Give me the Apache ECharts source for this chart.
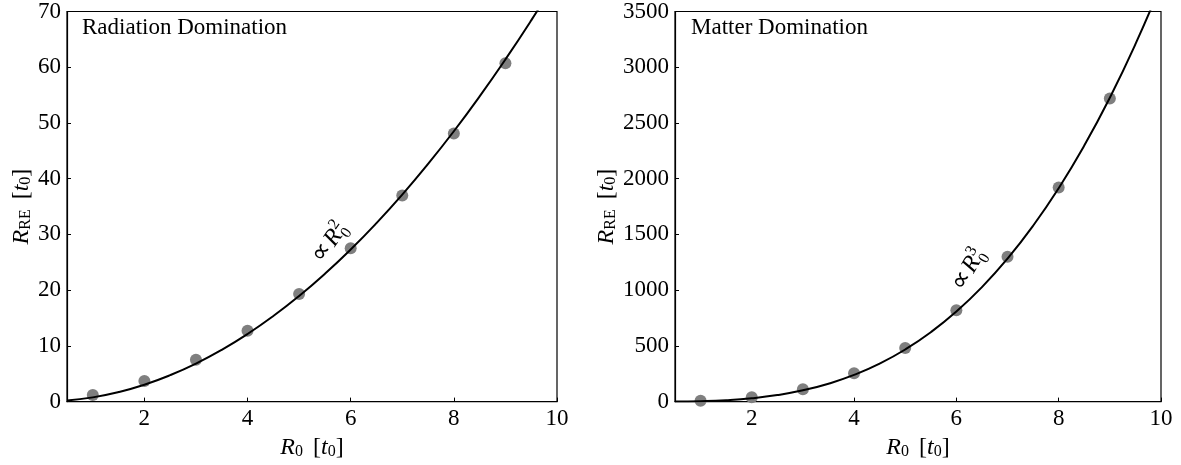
<!DOCTYPE html>
<html>
<head>
<meta charset="utf-8">
<script src="https://cdn.jsdelivr.net/npm/echarts@6/dist/echarts.min.js"></script>
<style>html,body{margin:0;padding:0;background:#fff}#c{width:1181px;height:465px}</style>
</head>
<body>
<div id="c"></div>
<script>
// ---- data ----
const xPoints = [1, 2, 3, 4, 5, 6, 7, 8, 9];
const radPoints = [1.2, 3.7, 7.5, 12.7, 19.3, 27.5, 37.0, 48.1, 60.7];
const matPoints = [8, 38, 110, 255, 480, 820, 1300, 1920, 2720];
const curveX = [0.5, 1, 1.5, 2, 2.5, 3, 3.5, 4, 4.5, 5, 5.5, 6, 6.5, 7, 7.5, 8, 8.5, 9, 9.5, 10];
const radCurve = [0.19, 0.76, 1.71, 3.03, 4.74, 6.82, 9.29, 12.13, 15.35, 18.95, 22.93, 27.29, 32.03, 37.14, 42.64, 48.51, 54.77, 61.40, 68.41, 75.8];
const matCurve = [0.47, 3.74, 12.6, 29.9, 58.4, 101.0, 160.4, 239.4, 340.8, 467.5, 622.3, 807.8, 1027.1, 1282.8, 1577.8, 1914.9, 2297.0, 2726.5, 3206.6, 3740];
const xTicks = [2, 4, 6, 8, 10];
const panelTitles = ['Radiation Domination', 'Matter Domination'];

const FONT = 'Liberation Serif';
const pair = (xs, ys) => xs.map((x, i) => [x, ys[i]]);

const nameRich = {
  i: {fontFamily: FONT, fontSize: 24, fontStyle: 'italic', color: '#000'},
  n: {fontFamily: FONT, fontSize: 24, color: '#000'},
  g: {fontFamily: FONT, fontSize: 24, color: '#000', width: 10},
  s: {fontFamily: FONT, fontSize: 16, color: '#000', padding: [9, 0, 0, 0]}
};

function xAxis(gi) {
  return {
    type: 'value', gridIndex: gi, min: 0.5, max: 10,
    axisLine: {onZero: false, lineStyle: {color: '#000', width: 1.2}},
    axisTick: {inside: true, length: 4, lineStyle: {color: '#000'}, customValues: xTicks},
    axisLabel: {fontFamily: FONT, fontSize: 23, color: '#000', margin: 6, customValues: xTicks},
    splitLine: {show: false},
    name: '{i|R}{s|0}{g| }{n|[}{i|t}{s|0}{n|]}',
    nameLocation: 'middle', nameGap: 30,
    nameTextStyle: {rich: nameRich}
  };
}
function yAxis(gi, max, interval, gap) {
  return {
    type: 'value', gridIndex: gi, min: 0, max: max, interval: interval,
    axisLine: {lineStyle: {color: '#000', width: 1.2}},
    axisTick: {inside: true, length: 4, lineStyle: {color: '#000'}},
    axisLabel: {fontFamily: FONT, fontSize: 23, color: '#000', margin: 6, formatter: v => String(v)},
    splitLine: {show: false},
    name: '{i|R}{s|RE}{g| }{n|[}{i|t}{s|0}{n|]}',
    nameLocation: 'middle', nameGap: gap, nameRotate: 90,
    nameTextStyle: {rich: nameRich}
  };
}

function annot(x, y, deg, sup) {
  return {
    type: 'group', x: x, y: y, rotation: deg * Math.PI / 180,
    children: [
      {type: 'text', x: 0, y: 0, style: {text: '\u221D', fontFamily: FONT, fontSize: 26, fill: '#000', textVerticalAlign: 'bottom'}},
      {type: 'text', x: 21, y: 0, style: {text: 'R', fontFamily: FONT, fontSize: 24, fontStyle: 'italic', fill: '#000', textVerticalAlign: 'bottom'}},
      {type: 'text', x: 36, y: 4, style: {text: '0', fontFamily: FONT, fontSize: 16, fill: '#000', textVerticalAlign: 'bottom'}},
      {type: 'text', x: 36, y: -11, style: {text: sup, fontFamily: FONT, fontSize: 16, fill: '#000', textVerticalAlign: 'bottom'}}
    ]
  };
}

const chart = echarts.init(document.getElementById('c'), null, {renderer: 'canvas'});
chart.setOption({
  animation: false,
  backgroundColor: '#fff',
  title: [
    {text: panelTitles[0], left: 77, top: 11, textStyle: {fontFamily: FONT, fontSize: 23, fontWeight: 'normal', color: '#000'}},
    {text: panelTitles[1], left: 686, top: 11, textStyle: {fontFamily: FONT, fontSize: 23, fontWeight: 'normal', color: '#000'}}
  ],
  grid: [
    {left: 67, right: 624, top: 9, bottom: 62, show: true, borderColor: '#000', borderWidth: 1.2},
    {left: 675, right: 20, top: 9, bottom: 62, show: true, borderColor: '#000', borderWidth: 1.2}
  ],
  xAxis: [xAxis(0), xAxis(1)],
  yAxis: [yAxis(0, 70, 10, 32), yAxis(1, 3500, 500, 32)],
  series: [
    {type: 'scatter', xAxisIndex: 0, yAxisIndex: 0, data: pair(xPoints, radPoints), symbolSize: 12, itemStyle: {color: '#7f7f7f', opacity: 1}, z: 2},
    {type: 'line', xAxisIndex: 0, yAxisIndex: 0, data: pair(curveX, radCurve), smooth: true, showSymbol: false, symbol: 'none', lineStyle: {color: '#000', width: 2}, clip: true, z: 3},
    {type: 'scatter', xAxisIndex: 1, yAxisIndex: 1, data: pair(xPoints, matPoints), symbolSize: 12, itemStyle: {color: '#7f7f7f', opacity: 1}, z: 2},
    {type: 'line', xAxisIndex: 1, yAxisIndex: 1, data: pair(curveX, matCurve), smooth: true, showSymbol: false, symbol: 'none', lineStyle: {color: '#000', width: 2}, clip: true, z: 3}
  ],
  graphic: [annot(327, 268, 55, '2'), annot(968, 295, 60, '3')]
});
</script>
</body>
</html>
